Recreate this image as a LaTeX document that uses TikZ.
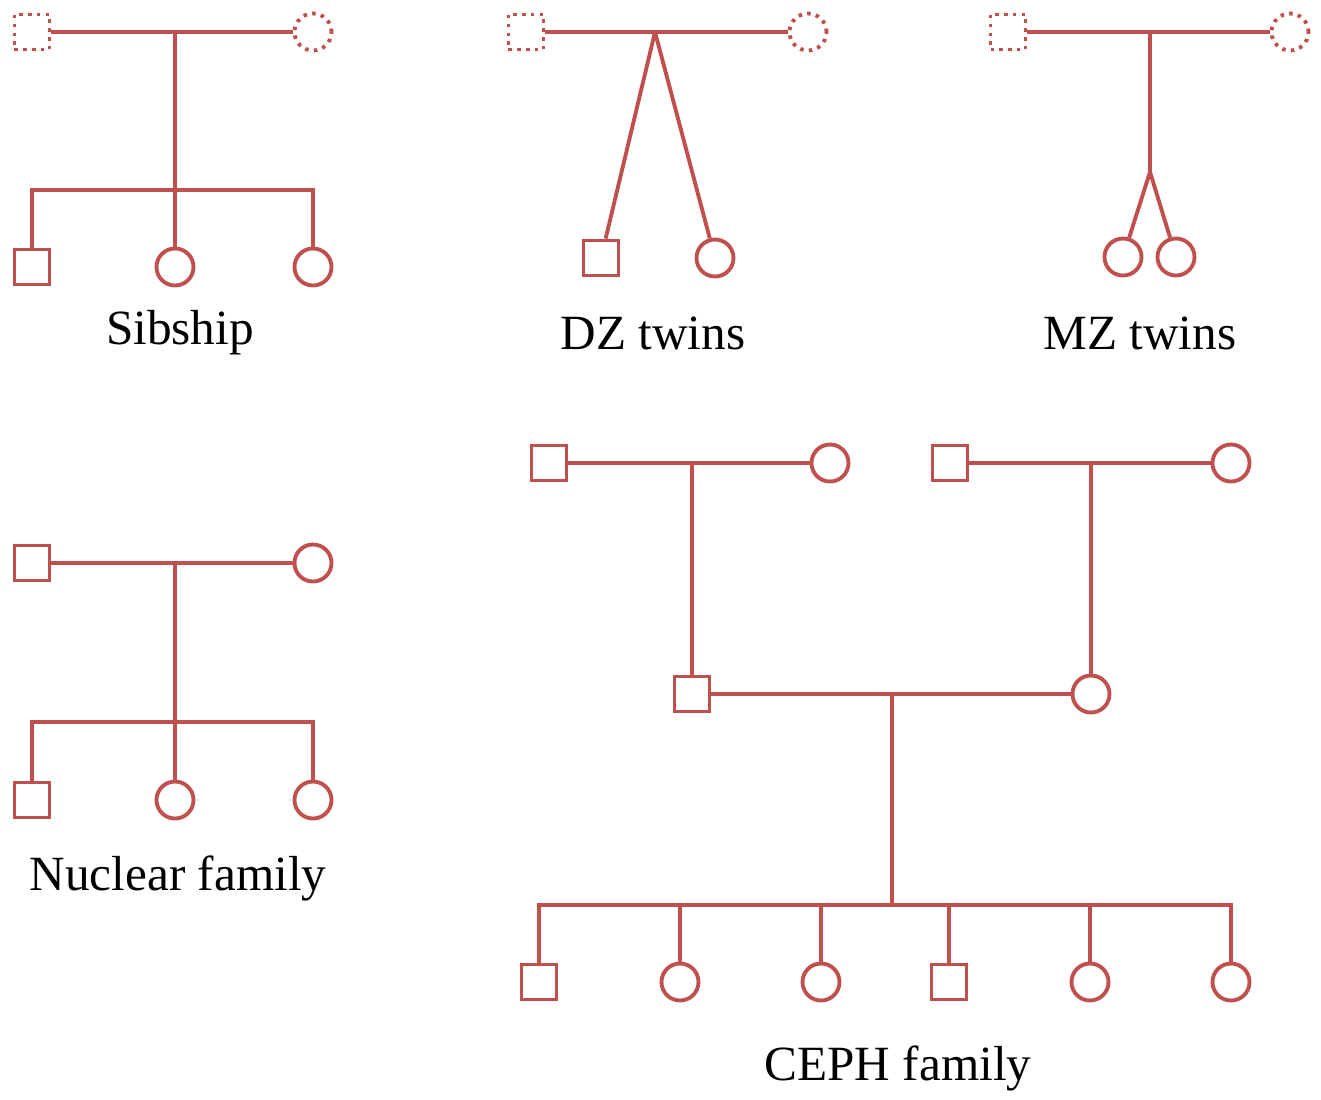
\documentclass[tikz,border=0pt]{standalone}
\usepackage{fontspec}
\setmainfont{Liberation Serif}
\usepackage{tikz}
\usetikzlibrary{positioning,shapes}
\definecolor{pedred}{HTML}{C0504D}

\begin{document}
\begin{tikzpicture}[x=0.01cm,y=-0.01cm,color=pedred,line width=1.1pt,
  male/.style={draw,rectangle,minimum size=0.35cm,inner sep=0pt},
  female/.style={draw,circle,minimum size=0.37cm,inner sep=0pt},
  ghost/.style={dash pattern=on 1pt off 1.5pt},
  caption/.style={font=\fontsize{14}{16}\selectfont,text=black}]
\useasboundingbox (0,0) rectangle (1321,1099);

% Sibship
\node[male,ghost] (sf) at (32,32) {};
\node[female,ghost] (sm) at (313,32) {};
\coordinate (sj) at (175,32);
\coordinate (sk) at (175,190);
\node[male] (sc1) at (32,267) {};
\node[female] (sc2) at (175,267) {};
\node[female] (sc3) at (313,267) {};
\draw (sf) -- (sm);
\draw (sj) -- (sk);
\draw (sc1) |- (sk) -| (sc3);
\draw (sk) -- (sc2);
\node[caption] (slab) at (180,333) {Sibship};

% DZ twins
\node[male,ghost] (df) at (526,32) {};
\node[female,ghost] (dm) at (808,32) {};
\coordinate (dj) at (655,32);
\node[male] (dc1) at (601,258) {};
\node[female] (dc2) at (715,258) {};
\draw (df) -- (dm);
\draw (dj) -- (dc1);
\draw (dj) -- (dc2);
\node[caption] (dlab) at (653,333) {DZ twins};

% MZ twins
\node[male,ghost] (mf) at (1008,32) {};
\node[female,ghost] (mm) at (1290,32) {};
\coordinate (mj) at (1150,32);
\coordinate (mk) at (1150,172);
\node[female] (mc1) at (1123,257) {};
\node[female] (mc2) at (1176,257) {};
\draw (mf) -- (mm);
\draw (mj) -- (mk);
\draw (mk) -- (mc1);
\draw (mk) -- (mc2);
\node[caption] (mlab) at (1140,333) {MZ twins};

% Nuclear family
\node[male] (nf) at (32,563) {};
\node[female] (nm) at (313,563) {};
\coordinate (nj) at (175,563);
\coordinate (nk) at (175,722);
\node[male] (nc1) at (32,800) {};
\node[female] (nc2) at (175,800) {};
\node[female] (nc3) at (313,800) {};
\draw (nf) -- (nm);
\draw (nj) -- (nk);
\draw (nc1) |- (nk) -| (nc3);
\draw (nk) -- (nc2);
\node[caption] (nlab) at (178,878) {Nuclear family};

% CEPH family
\node[male] (gf1) at (549,463) {};
\node[female] (gm1) at (830,463) {};
\node[male] (gf2) at (950,463) {};
\node[female] (gm2) at (1231,463) {};
\coordinate (gj1) at (692,463);
\coordinate (gj2) at (1091,463);
\node[male] (pf) at (692,694) {};
\node[female] (pm) at (1091,694) {};
\coordinate (pj) at (892,694);
\coordinate (pk) at (892,905);
\draw (gf1) -- (gm1);
\draw (gf2) -- (gm2);
\draw (gj1) -- (pf);
\draw (gj2) -- (pm);
\draw (pf) -- (pm);
\draw (pj) -- (pk);
\node[male] (k1) at (539,982) {};
\node[female] (k2) at (680,982) {};
\node[female] (k3) at (821,982) {};
\node[male] (k4) at (949,982) {};
\node[female] (k5) at (1090,982) {};
\node[female] (k6) at (1231,982) {};
\draw (k1) |- (pk) -| (k6);
\foreach \k/\x in {k2/680,k3/821,k4/949,k5/1090}
  \draw (\x,905) -- (\k);
\node[caption] (clab) at (898,1068) {CEPH family};

\end{tikzpicture}
\end{document}
